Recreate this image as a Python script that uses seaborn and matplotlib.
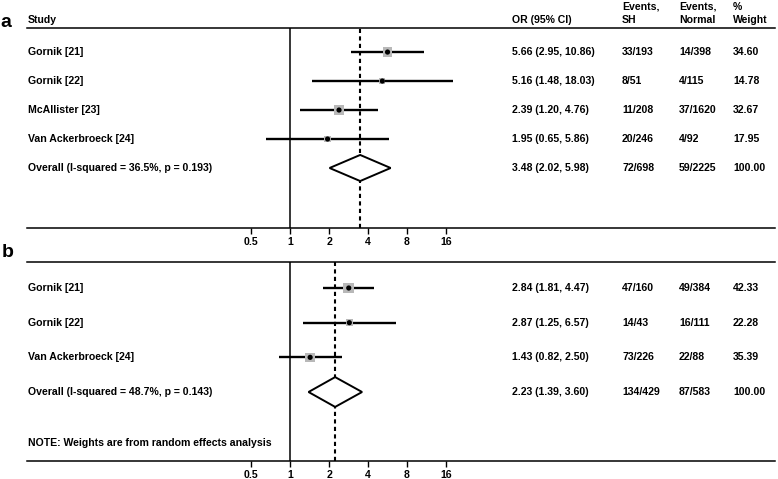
import numpy as np
import pandas as pd
import seaborn as sns
import matplotlib
matplotlib.use("Agg")
import matplotlib.pyplot as plt
import matplotlib.transforms as mtransforms

# panel a
studies_a = ["Gornik [21]", "Gornik [22]", "McAllister [23]", "Van Ackerbroeck [24]"]
or_a = [5.66, 5.16, 2.39, 1.95]
lo_a = [2.95, 1.48, 1.20, 0.65]
hi_a = [10.86, 18.03, 4.76, 5.86]
sh_a = ["33/193", "8/51", "11/208", "20/246"]
normal_a = ["14/398", "4/115", "37/1620", "4/92"]
weight_a = [34.60, 14.78, 32.67, 17.95]
overall_a = (3.48, 2.02, 5.98)
overall_label_a = "Overall (I-squared = 36.5%, p = 0.193)"
overall_events_a = ("72/698", "59/2225")

# panel b
studies_b = ["Gornik [21]", "Gornik [22]", "Van Ackerbroeck [24]"]
or_b = [2.84, 2.87, 1.43]
lo_b = [1.81, 1.25, 0.82]
hi_b = [4.47, 6.57, 2.50]
sh_b = ["47/160", "14/43", "73/226"]
normal_b = ["49/384", "16/111", "22/88"]
weight_b = [42.33, 22.28, 35.39]
overall_b = (2.23, 1.39, 3.60)
overall_label_b = "Overall (I-squared = 48.7%, p = 0.143)"
overall_events_b = ("134/429", "87/583")

ticks = [0.5, 1, 2, 4, 8, 16]

sns.set_style("white")
plt.rcParams["font.family"] = ["Liberation Sans", "DejaVu Sans"]
plt.rcParams["font.weight"] = "bold"
plt.rcParams["text.color"] = "black"
plt.rcParams["xtick.color"] = "black"
FS = 7.6

fig = plt.figure(figsize=(7.78, 4.79), dpi=100)

# column positions (axes fraction)
col_or, col_sh, col_norm, col_w = 0.6484, 0.7955, 0.8717, 0.9439


def forest(ax, studies, ors, los, his, sh, normal, weights, overall,
           overall_label, overall_events, ylim, diamond_h, note=None, note_y=None):
    df = pd.DataFrame({"study": studies, "OR": ors, "lo": los, "hi": his,
                       "weight": weights, "row": np.arange(len(studies))})
    ax.set_xscale("log", base=2)
    ax.set_xlim(2 ** -6.744, 2 ** 12.436)
    ax.set_ylim(*ylim)

    ax.axvline(1, color="black", lw=1.1, zorder=1)
    ax.axvline(overall[0], color="black", lw=1.5, ls=(0, (2, 1.6)), zorder=1)

    ax.hlines(df["row"], df["lo"], df["hi"], color="black", lw=1.7, zorder=2)
    sns.scatterplot(data=df, x="OR", y="row", size="weight", sizes=(0, 135),
                    size_norm=(0, 100), marker="s", color="#b8b8b8",
                    edgecolor="none", legend=False, ax=ax, zorder=3)
    sns.scatterplot(data=df, x="OR", y="row", s=14, color="black",
                    edgecolor="none", legend=False, ax=ax, zorder=4)

    orow = len(studies)
    est, olo, ohi = overall
    ax.fill([olo, est, ohi, est, olo], [orow, orow - diamond_h, orow, orow + diamond_h, orow],
            facecolor="white", edgecolor="black", lw=1.4, zorder=3)

    tr = mtransforms.blended_transform_factory(ax.transAxes, ax.transData)
    rows = list(df["row"]) + [orow]
    labels = list(studies) + [overall_label]
    ors_txt = [f"{o:.2f} ({l:.2f}, {h:.2f})" for o, l, h in zip(ors, los, his)]
    ors_txt.append(f"{est:.2f} ({olo:.2f}, {ohi:.2f})")
    shs = list(sh) + [overall_events[0]]
    nos = list(normal) + [overall_events[1]]
    ws = [f"{w:.2f}" for w in weights] + ["100.00"]
    for r, lab, o, s, n, w in zip(rows, labels, ors_txt, shs, nos, ws):
        kw = dict(transform=tr, va="center", ha="left", fontsize=FS, fontweight="bold")
        ax.text(0.001, r, lab, **kw)
        ax.text(col_or, r, o, **kw)
        ax.text(col_sh, r, s, **kw)
        ax.text(col_norm, r, n, **kw)
        ax.text(col_w, r, w, **kw)
    if note:
        ax.text(0.001, note_y, note, transform=tr, va="center", ha="left",
                fontsize=FS, fontweight="bold")

    for side in ["left", "right"]:
        ax.spines[side].set_visible(False)
    for side in ["top", "bottom"]:
        ax.spines[side].set_visible(True)
        ax.spines[side].set_color("black")
        ax.spines[side].set_linewidth(1.1)
    ax.set_yticks([])
    ax.set_xticks(ticks)
    ax.set_xticklabels([f"{t:g}" for t in ticks], fontsize=FS, fontweight="bold")
    ax.xaxis.set_minor_locator(matplotlib.ticker.NullLocator())
    ax.tick_params(axis="x", direction="out", length=4, width=1, pad=2.5,
                   bottom=True, colors="black")
    ax.set_xlabel("")
    ax.set_ylabel("")
    return tr


ax_a = fig.add_axes([27 / 778, 1 - 228 / 479, 748 / 778, 200 / 479])
tr_a = forest(ax_a, studies_a, or_a, lo_a, hi_a, sh_a, normal_a, weight_a,
              overall_a, overall_label_a, overall_events_a,
              ylim=(6.07, -0.83), diamond_h=0.45)
hdr = dict(transform=tr_a, va="center", ha="left", fontsize=FS, fontweight="bold")
ax_a.text(0.001, -1.12, "Study", **hdr)
ax_a.text(col_or, -1.12, "OR (95% CI)", **hdr)
ax_a.text(col_sh, -1.57, "Events,", **hdr)
ax_a.text(col_sh, -1.12, "SH", **hdr)
ax_a.text(col_norm, -1.57, "Events,", **hdr)
ax_a.text(col_norm, -1.12, "Normal", **hdr)
ax_a.text(col_w, -1.57, "%", **hdr)
ax_a.text(col_w, -1.12, "Weight", **hdr)

ax_b = fig.add_axes([27 / 778, 1 - 461 / 479, 748 / 778, 199 / 479])
forest(ax_b, studies_b, or_b, lo_b, hi_b, sh_b, normal_b, weight_b,
       overall_b, overall_label_b, overall_events_b,
       ylim=(4.99, -0.75), diamond_h=0.43,
       note="NOTE: Weights are from random effects analysis", note_y=4.47)

fig.text(0.2 / 778, 1 - 27 / 479, "a", fontsize=14, fontweight="bold", va="baseline")
fig.text(1.5 / 778, 1 - 257 / 479, "b", fontsize=14, fontweight="bold", va="baseline")

fig.savefig("out.png", dpi=100)
